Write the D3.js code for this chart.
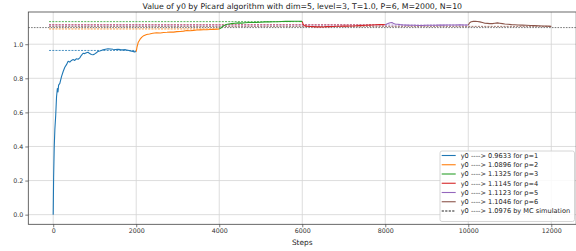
<!DOCTYPE html>
<html><head><meta charset="utf-8">
<script src="https://cdn.jsdelivr.net/npm/d3@7"></script>
<style>body{margin:0;background:#fff;}svg{display:block;font-family:"DejaVu Sans",sans-serif;}</style>
</head><body><svg id="c" width="576" height="251"></svg>
<script>
const title = "Value of y0 by Picard algorithm with dim=5, level=3, T=1.0, P=6, M=2000, N=10";
const xLabel = "Steps";
const xTicks = [0, 2000, 4000, 6000, 8000, 10000, 12000];
const yTicks = [0.0, 0.2, 0.4, 0.6, 0.8, 1.0];
const colors = ["#1f77b4", "#ff7f0e", "#2ca02c", "#d62728", "#9467bd", "#8c564b"];
const finalValues = [0.9633, 1.0896, 1.1325, 1.1145, 1.1123, 1.1046];
const mcValue = 1.0976;
const legendLabels = ["y0 ----> 0.9633 for p=1", "y0 ----> 1.0896 for p=2", "y0 ----> 1.1325 for p=3",
  "y0 ----> 1.1145 for p=4", "y0 ----> 1.1123 for p=5", "y0 ----> 1.1046 for p=6", "y0 ----> 1.0976 by MC simulation"];

const steps1 = [0,10,25,40,60,80,100,115,130,160,200,240,280,320,360,400,440,480,520,560,600,640,680,720,760,800,840,880,920,960,1000,1040,1080,1120,1160,1200,1260,1320,1380,1440,1500,1560,1620,1680,1740,1800,1860,1920,1960,2000];
const vals1 = [0,0.22,0.40,0.50,0.58,0.69,0.74,0.72,0.76,0.77,0.81,0.84,0.865,0.88,0.90,0.895,0.905,0.91,0.905,0.915,0.912,0.92,0.935,0.947,0.945,0.95,0.953,0.945,0.94,0.938,0.943,0.95,0.958,0.96,0.963,0.967,0.97,0.973,0.972,0.97,0.969,0.97,0.968,0.967,0.968,0.965,0.961,0.958,0.955,0.957];
const steps2 = [2000,2020,2050,2090,2130,2180,2250,2320,2400,2490,2580,2660,2740,2820,2900,2980,3060,3140,3220,3300,3380,3460,3540,3620,3700,3780,3860,3940,4000];
const vals2 = [0.957,0.985,1.012,1.028,1.04,1.05,1.057,1.06,1.064,1.067,1.066,1.069,1.07,1.072,1.071,1.074,1.075,1.077,1.08,1.079,1.081,1.083,1.084,1.085,1.085,1.086,1.087,1.088,1.0896];
const steps3 = [4000,4040,4080,4120,4170,4230,4300,4380,4460,4540,4620,4700,4800,4900,5000,5100,5200,5300,5400,5500,5600,5700,5800,5900,5980,6000];
const vals3 = [1.0896,1.095,1.105,1.11,1.116,1.119,1.121,1.123,1.125,1.124,1.126,1.127,1.127,1.128,1.129,1.131,1.131,1.132,1.132,1.133,1.134,1.134,1.135,1.135,1.134,1.1325];
const steps4 = [6000,6020,6050,6100,6180,6260,6340,6420,6500,6580,6660,6740,6820,6900,6980,7060,7140,7220,7300,7380,7460,7540,7620,7700,7780,7860,7940,8000];
const vals4 = [1.1325,1.118,1.109,1.106,1.104,1.103,1.102,1.102,1.101,1.103,1.103,1.104,1.105,1.105,1.106,1.106,1.107,1.107,1.108,1.109,1.110,1.111,1.112,1.113,1.114,1.115,1.115,1.1145];
const steps5 = [8000,8040,8080,8120,8160,8200,8240,8300,8360,8440,8520,8600,8700,8800,8900,9000,9100,9200,9300,9400,9500,9600,9700,9800,9900,10000];
const vals5 = [1.1145,1.119,1.123,1.126,1.127,1.122,1.119,1.117,1.115,1.113,1.112,1.111,1.111,1.110,1.110,1.111,1.111,1.111,1.112,1.112,1.113,1.113,1.113,1.114,1.113,1.1123];
const steps6 = [10000,10030,10070,10120,10170,10220,10280,10340,10400,10460,10520,10580,10640,10700,10760,10820,10880,10960,11040,11120,11200,11300,11400,11500,11600,11700,11800,11900,12000];
const vals6 = [1.1123,1.125,1.132,1.134,1.134,1.133,1.131,1.127,1.123,1.122,1.121,1.121,1.123,1.125,1.123,1.121,1.119,1.117,1.115,1.114,1.113,1.112,1.111,1.110,1.109,1.108,1.107,1.106,1.1046];
const hlineStart = -100;
const hlineEnds = [2000, 4000, 6000, 8000, 10000, 12000];

const stepsAll = [steps1, steps2, steps3, steps4, steps5, steps6];
const valsAll = [vals1, vals2, vals3, vals4, vals5, vals6];

const svg = d3.select("#c");
const L = 28.3, R = 576.2, T = 12, B = 224.3;
const x = d3.scaleLinear().domain([-600, 12600]).range([L, R]);
const y = d3.scaleLinear().domain([-0.0566, 1.189]).range([B, T]);

// grid
const g = svg.append("g");
g.selectAll(".gx").data(xTicks).enter().append("line")
  .attr("x1", d => x(d)).attr("x2", d => x(d)).attr("y1", T).attr("y2", B)
  .attr("stroke", "#d4d4d4").attr("stroke-width", 0.8);
g.selectAll(".gy").data(yTicks).enter().append("line")
  .attr("x1", L).attr("x2", R).attr("y1", d => y(d)).attr("y2", d => y(d))
  .attr("stroke", "#d4d4d4").attr("stroke-width", 0.8);

// dashed hlines for each p
const hl = svg.append("g");
finalValues.forEach((v, i) => {
  hl.append("line").attr("x1", x(hlineStart)).attr("x2", x(hlineEnds[i]))
    .attr("y1", y(v)).attr("y2", y(v))
    .attr("stroke", colors[i]).attr("stroke-width", 0.8).attr("stroke-dasharray", "2,1.2");
});
// MC line
hl.append("line").attr("x1", L).attr("x2", R).attr("y1", y(mcValue)).attr("y2", y(mcValue))
  .attr("stroke", "#555").attr("stroke-width", 0.8).attr("stroke-dasharray", "1.6,1.2");

// series
const line = d3.line().x(d => x(d[0])).y(d => y(d[1]));
stepsAll.forEach((s, i) => {
  const pts = s.map((st, j) => [st, valsAll[i][j]]);
  svg.append("path").attr("d", line(pts)).attr("fill", "none")
    .attr("stroke", colors[i]).attr("stroke-width", 1.1).attr("stroke-linejoin", "round");
});

// axes
const xAxis = svg.append("g").attr("transform", `translate(0,${B})`)
  .call(d3.axisBottom(x).tickValues(xTicks).tickSize(3).tickPadding(1.5).tickFormat(d3.format("d")));
const yAxis = svg.append("g").attr("transform", `translate(${L},0)`)
  .call(d3.axisLeft(y).tickValues(yTicks).tickSize(3).tickPadding(2).tickFormat(d3.format(".1f")));
[xAxis, yAxis].forEach(a => {
  a.select(".domain").remove();
  a.selectAll("line").attr("stroke", "#444").attr("stroke-width", 0.7);
  a.selectAll("text").attr("fill", "#333").style("font-size", "6.3px").style("font-family", "DejaVu Sans");
});
// spines
svg.append("rect").attr("x", L).attr("y", T).attr("width", R - L).attr("height", B - T)
  .attr("fill", "none").attr("stroke", "#444").attr("stroke-width", 0.8);

// title & label
svg.append("text").attr("x", (L + R) / 2).attr("y", 9).attr("text-anchor", "middle")
  .style("font-size", "7.8px").attr("fill", "#222").text(title);
svg.append("text").attr("x", (L + R) / 2).attr("y", 244.5).attr("text-anchor", "middle")
  .style("font-size", "7.4px").attr("fill", "#222").text(xLabel);

// legend
const lg = svg.append("g");
lg.append("rect").attr("x", 440).attr("y", 151).attr("width", 134.5).attr("height", 70.5)
  .attr("rx", 2).attr("fill", "#fff").attr("fill-opacity", 0.85).attr("stroke", "#ccc").attr("stroke-width", 0.8);
legendLabels.forEach((t, i) => {
  const yy = 155.5 + i * 9.25;
  const ln = lg.append("line").attr("x1", 441.7).attr("x2", 455.7).attr("y1", yy).attr("y2", yy)
    .attr("stroke-width", 1.1);
  if (i < 6) ln.attr("stroke", colors[i]);
  else ln.attr("stroke", "#222").attr("stroke-dasharray", "2.2,1.3");
  lg.append("text").attr("x", 460.7).attr("y", yy).attr("dy", "0.35em")
    .style("font-size", "6.6px").attr("fill", "#222").text(t);
});
</script></body></html>
